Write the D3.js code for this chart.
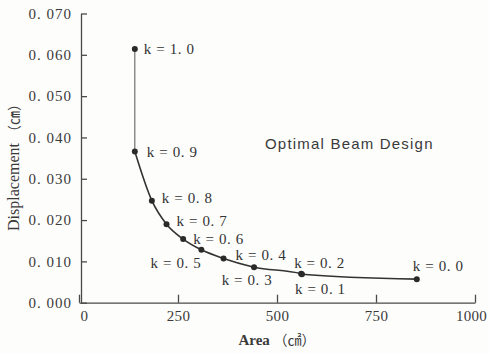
<!DOCTYPE html>
<html>
<head>
<meta charset="utf-8">
<script src="https://cdn.jsdelivr.net/npm/d3@7"></script>
<style>
  body { margin: 0; background: #fdfdfc; }
  svg { display: block; }
  .tick text { font-family: "Liberation Serif", serif; font-size: 15px; fill: #3a3a3a; letter-spacing: 1px; }
  .xaxis .tick text { letter-spacing: 0.3px; }
  .tick line, .domain { stroke: #4a4a4a; stroke-width: 1.3; }
  .klabel { font-family: "Liberation Serif", serif; font-size: 15px; fill: #333; letter-spacing: 0.6px; }
</style>
</head>
<body>
<div id="plot"></div>
<script>
// Values
const kValues = ["1. 0", "0. 9", "0. 8", "0. 7", "0. 6", "0. 5", "0. 4", "0. 3", "0. 2", "0. 1", "0. 0"];
const areaValues = [141, 141, 184, 221, 263, 309, 365, 442, 561, 563, 853];
const dispValues = [0.0614, 0.0366, 0.0247, 0.0190, 0.0154, 0.0128, 0.0107, 0.0086, 0.0070, 0.0069, 0.0057];
const xTicks = [0, 250, 500, 750, 1000];
const yTicks = [0, 0.01, 0.02, 0.03, 0.04, 0.05, 0.06, 0.07];

// label placement per point: dx, dy from the dot, anchor
const labelPos = [
    [9, 0, "start"], [12, 0, "start"], [10, -3, "start"], [10, -3, "start"],
    [10, 0, "start"], [0, 13, "end"], [12, -4, "start"], [-7, 13, "middle"],
    [-7, -11, "start"], [-7, 15, "start"], [-4, -13, "start"]
];

const W = 489, H = 353;
const svg = d3.select("#plot")
    .append("svg")
    .attr("width", W)
    .attr("height", H);

const x = d3.scaleLinear().domain([0, 1000]).range([79, 475]);
const y = d3.scaleLinear().domain([0, 0.07]).range([302.7, 13.5]);

const data = kValues.map((k, i) => ({ k: k, area: areaValues[i], disp: dispValues[i] }));

// axes (ticks pointing inward)
svg.append("g")
    .attr("class", "xaxis")
    .attr("transform", `translate(0,${y(0)})`)
    .call(d3.axisBottom(x).tickValues(xTicks).tickSizeInner(-8).tickSizeOuter(0).tickPadding(5)
        .tickFormat(d3.format("d")))
    .call(g => g.selectAll("text").attr("dy", "0.9em"))
    .call(g => g.selectAll("text").filter(d => d === 1000).attr("dx", -4))
    .call(g => g.selectAll("text").filter(d => d === 0).attr("dx", 5));

svg.append("g")
    .attr("transform", `translate(81,0)`)
    .call(d3.axisLeft(y).tickValues(yTicks).tickSizeInner(-6).tickSizeOuter(0).tickPadding(9)
        .tickFormat(d => d3.format(".3f")(d).replace(".", ". ")));

// curve: vertical thin segment then smooth line
svg.append("line")
    .attr("x1", x(data[0].area)).attr("y1", y(data[0].disp))
    .attr("x2", x(data[1].area)).attr("y2", y(data[1].disp))
    .attr("stroke", "#555").attr("stroke-width", 1);

const line = d3.line()
    .x(d => x(d.area))
    .y(d => y(d.disp))
    .curve(d3.curveMonotoneX);

svg.append("path")
    .datum(data.slice(1))
    .attr("d", line)
    .attr("fill", "none")
    .attr("stroke", "#333")
    .attr("stroke-width", 1.6);

svg.selectAll("circle")
    .data(data)
    .enter()
    .append("circle")
    .attr("cx", d => x(d.area))
    .attr("cy", d => y(d.disp))
    .attr("r", 3)
    .attr("fill", "#2a2a2a");

svg.selectAll(".klabel")
    .data(data)
    .enter()
    .append("text")
    .attr("class", "klabel")
    .attr("x", (d, i) => x(d.area) + labelPos[i][0])
    .attr("y", (d, i) => y(d.disp) + labelPos[i][1])
    .attr("dy", "0.35em")
    .attr("text-anchor", (d, i) => labelPos[i][2])
    .text(d => "k = " + d.k);

// titles
svg.append("text")
    .attr("x", 277)
    .attr("y", 340)
    .attr("dy", "0.35em")
    .attr("text-anchor", "middle")
    .style("font-family", "'Liberation Serif', serif")
    .style("font-size", "15px")
    .style("font-weight", "bold")
    .style("fill", "#3a3a3a")
    .html('Area <tspan style="font-family:\'Noto Sans CJK JP\';font-weight:normal;font-size:14px">（㎠）</tspan>');

svg.append("text")
    .attr("transform", "translate(13,164) rotate(-90)")
    .attr("dy", "0.35em")
    .attr("text-anchor", "middle")
    .style("font-family", "'Liberation Serif', serif")
    .style("font-size", "16px")
    .style("fill", "#3a3a3a")
    .html('Displacement <tspan style="font-family:\'Noto Sans CJK JP\';font-size:14px">（㎝）</tspan>');

svg.append("text")
    .attr("x", 265)
    .attr("y", 144)
    .attr("dy", "0.35em")
    .style("font-family", "'Liberation Sans', sans-serif")
    .style("font-size", "15px")
    .style("letter-spacing", "1.2px")
    .style("fill", "#3a3a3a")
    .text("Optimal Beam Design");
</script>
</body>
</html>
